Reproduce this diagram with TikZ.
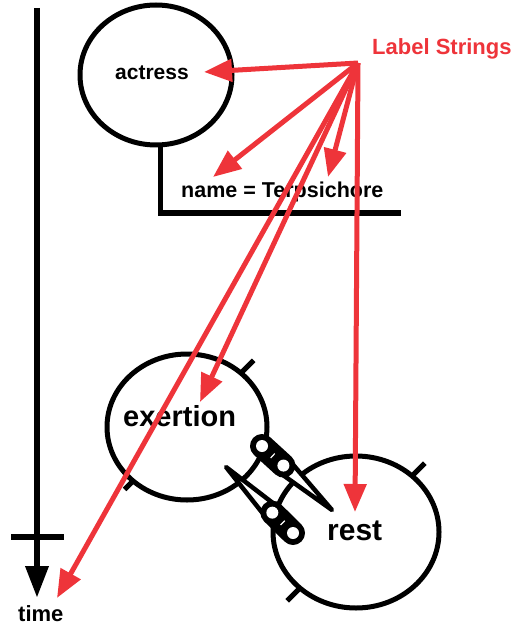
\documentclass[tikz,border=0pt]{standalone}
\usepackage{fontspec}
\setmainfont{Liberation Sans}
\usetikzlibrary{arrows.meta,shapes.geometric,calc}
\definecolor{lred}{RGB}{238,52,58}
\begin{document}
\begin{tikzpicture}[x=1pt,y=-1pt,
  blk/.style={line width=5pt,black},
  circ/.style={ellipse,draw,line width=5pt,inner sep=0pt,outer sep=0pt},
  lbl/.style={anchor=base west,inner sep=0pt,font=\bfseries},
  redarr/.style={draw=lred,line width=5pt,-{Triangle[length=28pt,width=22pt]},fill=lred},
  spike/.style={draw=black,fill=white,line width=4.5pt,line join=round},
  capsule/.style={line width=24pt,line cap=round,black}]
\useasboundingbox (0,0) rectangle (519,628);

% time line
\coordinate (ttop) at (37,8);
\coordinate (tend) at (37,598);
\coordinate (cbl) at (11,537);
\coordinate (cbr) at (64,537);
\draw[line width=6.5pt,-{Triangle[length=32pt,width=22pt]}] (ttop) -- (tend);
\draw[line width=6.5pt] (cbl) -- (cbr);
\node[lbl,font=\fontsize{22}{24}\selectfont\bfseries] (time) at (18,621) {time};

% actress
\node[circ,minimum width=152pt,minimum height=140pt] (act) at (156,75) {};
\node[lbl,font=\fontsize{21}{24}\selectfont\bfseries] (acttxt) at (115,80) {actress};
\coordinate (brk1) at (160,213);
\coordinate (brk2) at (401,213);
\draw[blk,line join=miter] (act.south -| brk1) -- (brk1) -- (brk2);
\node[lbl,font=\fontsize{21.5}{24}\selectfont\bfseries] (name) at (181,198) {name = Terpsichore};

% exertion & rest
\node[circ,minimum width=160pt,minimum height=146pt] (ex) at (187,427) {};
\node[lbl,font=\fontsize{29}{32}\selectfont\bfseries] (extxt) at (123,426) {exertion};
\node[circ,minimum width=166pt,minimum height=152pt] (rest) at (356,532) {};
\node[lbl,font=\fontsize{30}{32}\selectfont\bfseries] (resttxt) at (327,540) {rest};

% ticks
\draw[blk] (ex.45) -- ($(ex.45)!-18pt!(ex.center)$);
\draw[blk] (ex.225) -- ($(ex.225)!-12pt!(ex.center)$);
\draw[blk] (rest.45) -- ($(rest.45)!-18pt!(rest.center)$);
\draw[blk] (rest.225) -- ($(rest.225)!-18pt!(rest.center)$);

% pin 1 (circles near exertion, tip toward rest)
\coordinate (pa1) at (262,446);
\coordinate (pt1) at (332,510);
\coordinate (pb1) at ($(pa1)!29pt!(pt1)$);
\draw[spike] ($(pb1)!8pt!90:(pt1)$) -- (pt1) -- ($(pb1)!8pt!-90:(pt1)$) -- cycle;
\draw[capsule] (pa1) -- (pb1);
\fill[white] (pa1) circle (6pt) (pb1) circle (6pt);
\draw[white,line width=1.2pt] ($($(pa1)!0.5!(pb1)$)!3pt!90:(pb1)$) -- ($($(pa1)!0.5!(pb1)$)!3pt!-90:(pb1)$);

% pin 2 (circles near rest, tip toward exertion)
\coordinate (pa2) at (293,533);
\coordinate (pt2) at (226,467);
\coordinate (pb2) at ($(pa2)!29pt!(pt2)$);
\draw[spike] ($(pb2)!8pt!90:(pt2)$) -- (pt2) -- ($(pb2)!8pt!-90:(pt2)$) -- cycle;
\draw[capsule] (pa2) -- (pb2);
\fill[white] (pa2) circle (6pt) (pb2) circle (6pt);
\draw[white,line width=1.2pt] ($($(pa2)!0.5!(pb2)$)!3pt!90:(pb2)$) -- ($($(pa2)!0.5!(pb2)$)!3pt!-90:(pb2)$);

% label strings
\node[lbl,text=lred,font=\fontsize{22}{24}\selectfont\bfseries] (ls) at (372,55) {Label Strings};
\coordinate (src) at (358,63);
\coordinate (tAct) at (204,72);
\coordinate (tName) at (213,177);
\coordinate (tTerp) at (328,177);
\coordinate (tEx) at (200,402);
\coordinate (tTime) at (57,598);
\coordinate (tRest) at (355,512);
\foreach \t in {tAct,tName,tTerp,tEx,tTime,tRest}
  \draw[redarr] (src) -- (\t);
\end{tikzpicture}
\end{document}
